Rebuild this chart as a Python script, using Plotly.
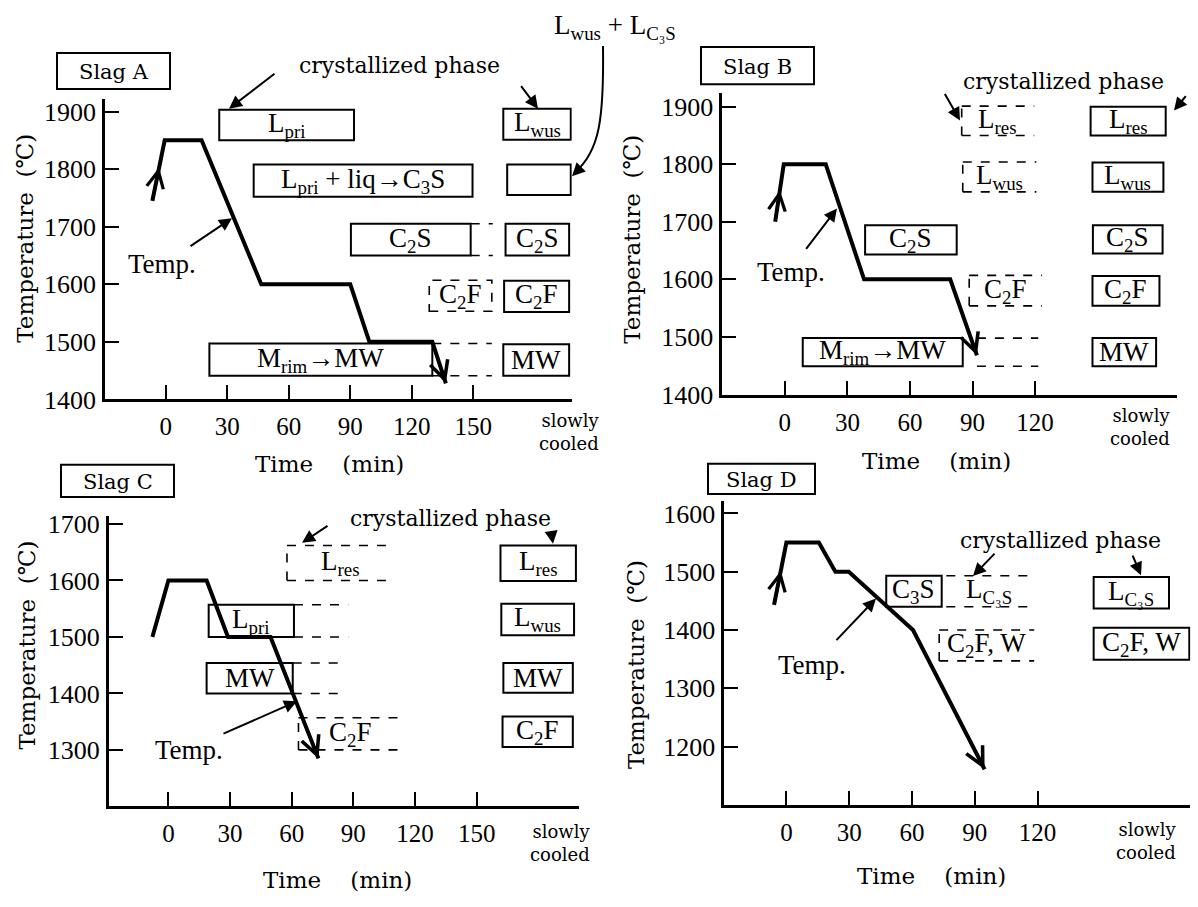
import plotly.graph_objects as go

W, H = 1198, 907

# ---------------- data ----------------
A_time = [-6.5, -0.5, 17.5, 46.6, 90, 99.3, 130, 136.6]
A_temp = [1745, 1850, 1850, 1600, 1600, 1500, 1500, 1428]
B_time = [-4.6, -0.5, 19.6, 38, 79.3, 92.1]
B_temp = [1700, 1800, 1800, 1600, 1600, 1468]
C_time = [-7.8, 0, 18.6, 29, 49.7, 73]
C_temp = [1500, 1600, 1600, 1500, 1500, 1285]
D_time = [-5.9, 0, 15.5, 23.4, 29.8, 60.5, 94.7]
D_temp = [1443, 1550, 1550, 1500, 1500, 1400, 1161]

time_ticks_AC = [0, 30, 60, 90, 120, 150]
time_ticks_BD = [0, 30, 60, 90, 120]
temp_ticks_AB = [1400, 1500, 1600, 1700, 1800, 1900]
temp_ticks_C = [1300, 1400, 1500, 1600, 1700]
temp_ticks_D = [1200, 1300, 1400, 1500, 1600]

# crystallized phase boxes: (label, t_start, t_end, T_low, T_high, kind)
A_boxes = [
    ("L<sub>pri</sub>", 26.1, 91.8, 1850, 1903, "solid"),
    ("L<sub>pri</sub> + liq→C<sub>3</sub>S", 42.9, 149.6, 1752, 1808, "solid"),
    ("C<sub>2</sub>S", 90.3, 148.7, 1650, 1705, "solid"),
    ("C<sub>2</sub>F", 128.5, 159.0, 1553, 1607, "dashed"),
    ("M<sub>rim</sub>→MW", 21.3, 130.0, 1441, 1497, "solid"),
    ("L<sub>wus</sub>", 164.6, 197.5, 1851, 1905, "solid"),
    ("", 166.5, 197.5, 1755, 1808, "solid"),
    ("C<sub>2</sub>S", 165.7, 196.7, 1650, 1705, "solid"),
    ("C<sub>2</sub>F", 165.0, 196.7, 1552, 1606, "solid"),
    ("MW", 164.6, 196.7, 1441, 1496, "solid"),
]
A_continued = [(148.7, 159.5, 1650, 1705), (130.0, 159.0, 1441, 1497)]

B_boxes = [
    ("L<sub>res</sub>", 84.8, 119.6, 1850, 1901, "open"),
    ("L<sub>wus</sub>", 85.3, 120.6, 1752, 1804, "open"),
    ("C<sub>2</sub>S", 38.5, 82.4, 1643, 1694, "solid"),
    ("C<sub>2</sub>F", 88.4, 123.3, 1554, 1607, "open"),
    ("M<sub>rim</sub>→MW", 8.6, 85.3, 1449, 1498, "solid"),
    ("L<sub>res</sub>", 146.6, 182.6, 1850, 1900, "solid"),
    ("L<sub>wus</sub>", 147.5, 181.5, 1752, 1803, "solid"),
    ("C<sub>2</sub>S", 147.7, 181.1, 1645, 1694, "solid"),
    ("C<sub>2</sub>F", 147.5, 179.6, 1554, 1606, "solid"),
    ("MW", 147.5, 178.0, 1449, 1498, "solid"),
]
B_continued = [(92.1, 121.5, 1449, 1498)]

C_boxes = [
    ("L<sub>res</sub>", 57.7, 109.9, 1600, 1662, "open"),
    ("L<sub>pri</sub>", 19.6, 61.1, 1500, 1557, "solid"),
    ("MW", 18.6, 60.5, 1400, 1454, "solid"),
    ("C<sub>2</sub>F", 63.3, 113.6, 1300, 1357, "open"),
    ("L<sub>res</sub>", 161.6, 198.3, 1599, 1662, "solid"),
    ("L<sub>wus</sub>", 162.0, 197.4, 1503, 1559, "solid"),
    ("MW", 163.0, 196.8, 1401, 1454, "solid"),
    ("C<sub>2</sub>F", 162.6, 196.8, 1305, 1359, "solid"),
]
C_continued = [(61.1, 87.5, 1500, 1557), (60.5, 86.6, 1400, 1454)]

D_boxes = [
    ("C<sub>3</sub>S", 47.7, 74.2, 1440, 1493, "solid"),
    ("L<sub>C₃S</sub>", 76.4, 117.6, 1440, 1493, "lines"),
    ("C<sub>2</sub>F, W", 73.0, 118.4, 1347, 1400, "open"),
    ("L<sub>C₃S</sub>", 146.8, 182.8, 1437, 1491, "solid"),
    ("C<sub>2</sub>F, W", 146.8, 192.5, 1349, 1404, "solid"),
]
D_continued = []

# ---------------- layout helpers ----------------
def PX(x):
    return x / W

def PY(y):
    return 1 - y / H

SERIF = "Liberation Serif"
WIDE = "DejaVu Serif"

# panel geometry: pixel of t=0, px per min, t-range, ref temp pixel, ref temp, px per degree, T-range
panels = {
    "A": dict(t0=165.7, sx=2.051, tr=[-29.5, 198], Tpx=403.3, Tref=1400, sy=0.5887, Tr=[1400, 1921]),
    "B": dict(t0=784.8, sx=2.086, tr=[-29.9, 188], Tpx=398.3, Tref=1400, sy=0.5887, Tr=[1400, 1924]),
    "C": dict(t0=168.4, sx=2.055, tr=[-28.9, 200], Tpx=761.7, Tref=1300, sy=0.5775, Tr=[1200, 1715]),
    "D": dict(t0=786.4, sx=2.093, tr=[-29.6, 193], Tpx=758.3, Tref=1200, sy=0.596, Tr=[1100, 1622]),
}

fig = go.Figure()
shapes = []
annotations = []

specs = [
    ("A", "", A_time, A_temp, A_boxes, A_continued, time_ticks_AC, temp_ticks_AB, True),
    ("B", "2", B_time, B_temp, B_boxes, B_continued, time_ticks_BD, temp_ticks_AB, True),
    ("C", "3", C_time, C_temp, C_boxes, C_continued, time_ticks_AC, temp_ticks_C, False),
    ("D", "4", D_time, D_temp, D_boxes, D_continued, time_ticks_BD, temp_ticks_D, True),
]

layout_axes = {}
for name, sfx, tt, TT, boxes, cont, xt, yt, start_arrow in specs:
    g = panels[name]
    xl = g["t0"] + g["tr"][0] * g["sx"]
    xr = g["t0"] + g["tr"][1] * g["sx"]
    yb = g["Tpx"] + (g["Tref"] - g["Tr"][0]) * g["sy"]
    ytop = g["Tpx"] - (g["Tr"][1] - g["Tref"]) * g["sy"]
    xa, ya = "x" + sfx, "y" + sfx
    layout_axes["xaxis" + sfx] = dict(
        domain=[PX(xl), PX(xr)], range=g["tr"], anchor=ya,
        tickvals=xt, ticks="inside", ticklen=14, tickwidth=2, tickcolor="black",
        showline=True, linewidth=3, linecolor="black", showgrid=False, zeroline=False,
        tickfont=dict(family=SERIF, size=25, color="black"), ticklabelstandoff=3,
        fixedrange=True,
    )
    layout_axes["yaxis" + sfx] = dict(
        domain=[PY(yb), PY(ytop)], range=g["Tr"], anchor=xa,
        tickvals=yt, ticks="inside", ticklen=14, tickwidth=2, tickcolor="black",
        showline=True, linewidth=3, linecolor="black", showgrid=False, zeroline=False,
        tickfont=dict(family=SERIF, size=26, color="black"), ticklabelstandoff=1,
        fixedrange=True,
    )
    # temperature curve
    fig.add_trace(go.Scatter(x=tt, y=TT, xaxis=xa, yaxis=ya, mode="lines",
                             line=dict(color="black", width=4), hoverinfo="skip",
                             showlegend=False))
    # end arrow
    annotations.append(dict(x=tt[-1], y=TT[-1], ax=tt[-2] + 0.6 * (tt[-1] - tt[-2]),
                            ay=TT[-2] + 0.6 * (TT[-1] - TT[-2]), xref=xa, yref=ya,
                            axref=xa, ayref=ya, showarrow=True, arrowhead=5,
                            arrowsize=1.2, arrowwidth=3, arrowcolor="black", text=""))
    if start_arrow:
        f = 0.55
        annotations.append(dict(x=tt[0] + f * (tt[1] - tt[0]), y=TT[0] + f * (TT[1] - TT[0]),
                                ax=tt[0], ay=TT[0], xref=xa, yref=ya, axref=xa, ayref=ya,
                                showarrow=True, arrowhead=5, arrowsize=1.1, arrowwidth=3,
                                arrowcolor="black", text=""))
    # boxes
    for lab, t0, t1, T0, T1, kind in boxes:
        if kind == "solid":
            shapes.append(dict(type="rect", xref=xa, yref=ya, x0=t0, x1=t1, y0=T0, y1=T1,
                               line=dict(color="black", width=2)))
        elif kind == "dashed":
            shapes.append(dict(type="rect", xref=xa, yref=ya, x0=t0, x1=t1, y0=T0, y1=T1,
                               line=dict(color="black", width=1.6, dash="dash")))
        else:
            segs = [(t0, T0, t1, T0), (t0, T1, t1, T1)]
            if kind == "open":
                segs.append((t0, T0, t0, T1))
            for a0, b0, a1, b1 in segs:
                shapes.append(dict(type="line", xref=xa, yref=ya, x0=a0, x1=a1, y0=b0, y1=b1,
                                   line=dict(color="black", width=1.6, dash="dash")))
        if lab:
            annotations.append(dict(x=(t0 + t1) / 2, y=(T0 + T1) / 2, xref=xa, yref=ya,
                                    text=lab, showarrow=False,
                                    font=dict(family=SERIF, size=27, color="black")))
    for t0, t1, T0, T1 in cont:
        for T in (T0, T1):
            shapes.append(dict(type="line", xref=xa, yref=ya, x0=t0, x1=t1, y0=T, y1=T,
                               line=dict(color="black", width=1.6, dash="dash")))

# ---------------- texts in page pixels ----------------
def text(x, y, s, size=22, family=SERIF, angle=0, align="center"):
    annotations.append(dict(x=PX(x), y=PY(y), xref="paper", yref="paper", text=s,
                            showarrow=False, textangle=angle, align=align,
                            xanchor="center", yanchor="middle",
                            font=dict(family=family, size=size, color="black")))

def arrow(tail, tip, width=2):
    annotations.append(dict(x=PX(tip[0]), y=PY(tip[1]), xref="paper", yref="paper",
                            ax=tail[0] - tip[0], ay=tail[1] - tip[1], text="",
                            showarrow=True, arrowhead=2, arrowsize=1.3, arrowwidth=width,
                            arrowcolor="black"))

def box(x0, y0, x1, y1):
    shapes.append(dict(type="rect", xref="paper", yref="paper", x0=PX(x0), x1=PX(x1),
                       y0=PY(y1), y1=PY(y0), line=dict(color="black", width=2)))

# slag titles
for (x0, y0, x1, y1), s in [((57, 49, 170, 86), "Slag A"), ((701, 43, 814, 81), "Slag B"),
                            ((61, 470, 174, 503), "Slag C"), ((708, 469, 815, 500), "Slag D")]:
    box(x0, y0, x1, y1)
    text((x0 + x1) / 2, (y0 + y1) / 2 + 1, s, size=21, family=WIDE)

# axis titles
tt_txt = "Time\u00a0\u00a0\u00a0\u00a0(min)"
yt_txt = "Temperature\u00a0\u00a0(℃)"
text(329, 469, tt_txt, size=23, family=WIDE)
text(936, 466, tt_txt, size=23, family=WIDE)
text(337, 895, tt_txt, size=23, family=WIDE)
text(931, 891, tt_txt, size=23, family=WIDE)
text(25, 239, yt_txt, size=23, family=WIDE, angle=-90)
text(632, 240, yt_txt, size=23, family=WIDE, angle=-90)
text(27, 655, yt_txt, size=23, family=WIDE, angle=-90)
text(636, 675, yt_txt, size=23, family=WIDE, angle=-90)

# slowly cooled
sc = "slowly<br>cooled"
text(569, 437, sc, size=18, family=WIDE, align="right")
text(1140, 432, sc, size=18, family=WIDE, align="right")
text(560, 857, sc, size=18, family=WIDE, align="right")
text(1146, 855, sc, size=18, family=WIDE, align="right")

# crystallized phase
cp = "crystallized phase"
text(399, 62, cp, size=22, family=WIDE)
text(1063, 78, cp, size=22, family=WIDE)
text(450, 525, cp, size=22, family=WIDE)
text(1060, 548, cp, size=22, family=WIDE)
arrow((276, 70), (229, 106))
arrow((520, 82), (538, 106))
arrow((944, 90), (960, 118))
arrow((1187, 92), (1174, 108))
arrow((329, 532), (302, 550))
arrow((551, 537), (553, 551))
arrow((996, 560), (973, 584))
arrow((1132, 562), (1141, 583))

# Temp. labels
text(162, 265, "Temp.", size=27)
text(791, 273, "Temp.", size=27)
text(189, 762, "Temp.", size=27)
text(812, 675, "Temp.", size=27)
arrow((189, 247), (232, 218))
arrow((805, 250), (837, 208))
arrow((222, 745), (297, 712))
arrow((835, 650), (876, 607))

# L_wus + L_C3S with curved pointer
text(615, 22, "L<sub>wus</sub> + L<sub>C₃S</sub>", size=27)
shapes.append(dict(type="path", xref="paper", yref="paper",
                   path=f"M {PX(603)},{PY(42)} C {PX(604)},{PY(115)} {PX(600)},{PY(150)} {PX(574)},{PY(172)}",
                   line=dict(color="black", width=2)))
arrow((582, 165), (572, 175))

fig.update_layout(
    width=W, height=H, margin=dict(l=0, r=0, t=0, b=0),
    paper_bgcolor="white", plot_bgcolor="white",
    showlegend=False, shapes=shapes, annotations=annotations,
    **layout_axes,
)

fig.write_html("out.html", config={"displayModeBar": False},
               post_script="document.body.style.margin='0';document.body.style.overflow='hidden';")
